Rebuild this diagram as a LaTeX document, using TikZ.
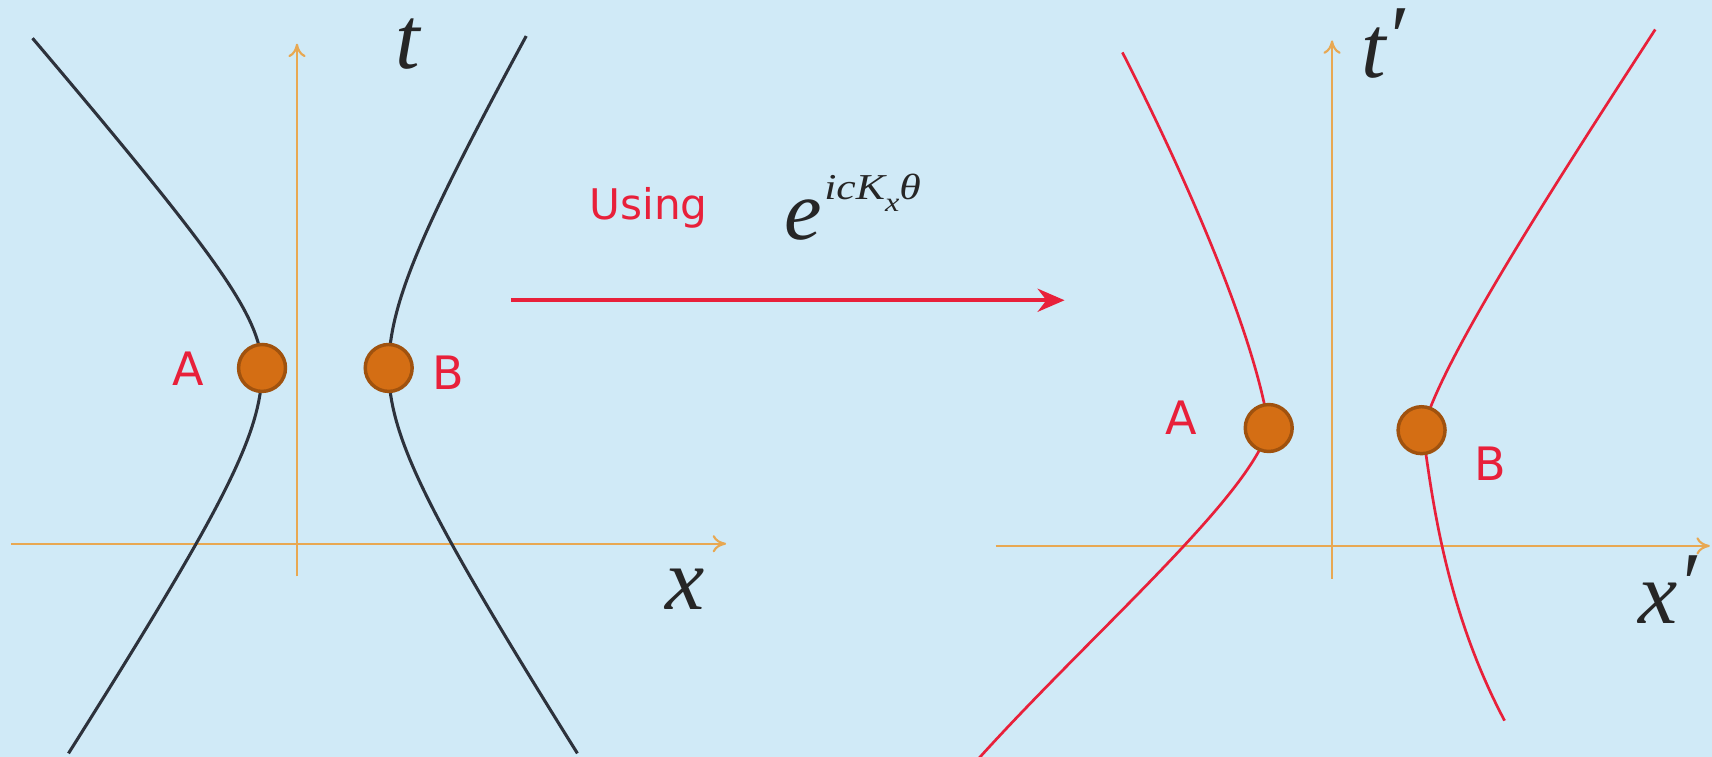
\documentclass[tikz,border=0pt]{standalone}
\usepackage{fontspec}
\usepackage{graphicx}
\setmainfont{Liberation Serif}
\newfontfamily\labelfont{DejaVu Sans}
\usetikzlibrary{arrows.meta}
\definecolor{bgblue}{RGB}{208,234,247}
\definecolor{axisorange}{RGB}{232,168,82}
\definecolor{curvedark}{RGB}{45,50,60}
\definecolor{curvered}{RGB}{232,32,58}
\definecolor{dotfill}{RGB}{212,110,20}
\definecolor{dotedge}{RGB}{160,82,14}
\tikzset{
  axisline/.style={draw=axisorange, line width=1.1pt, -{To[length=7pt,width=9pt]}},
  darkcurve/.style={draw=curvedark, line width=1.6pt},
  redcurve/.style={draw=curvered, line width=1.4pt},
  dotnode/.style={circle, fill=dotfill, draw=dotedge, line width=1.8pt, minimum size=0.86cm, inner sep=0pt},
  ptlabel/.style={text=curvered, font=\labelfont\fontsize{24}{24}\selectfont, inner sep=0pt},
  axislabel/.style={font=\fontsize{46}{46}\selectfont\itshape, inner sep=0pt, text=black!85},
  bigarrow/.style={draw=curvered, line width=2.2pt, -{Stealth[length=14pt,width=12pt]}}
}
\begin{document}
\begin{tikzpicture}[x=0.02cm, y=-0.02cm]
\fill[bgblue] (0,0) rectangle (1568,693);
\useasboundingbox (0,0) rectangle (1568,693);

% ---------- left diagram ----------
\coordinate (tb) at (272,528);
\coordinate (tt) at (272,40);
\coordinate (xl) at (10,498);
\coordinate (xr) at (665,498);
\draw[axisline] (tb) -- (tt);
\draw[axisline] (xl) -- (xr);
\node[axislabel] (tlab) at (373,40) {t};
\node[axislabel] (xlab) at (627,540) {x};

\draw[darkcurve] plot[domain=303:0, samples=60] ({240-60*(sqrt(1+(\x/69)^2)-1)}, {338-\x})
                 -- plot[domain=0:352, samples=60] ({240-60*(sqrt(1+(\x/92)^2)-1)}, {338+\x});
\draw[darkcurve] plot[domain=305:0, samples=60] ({356+57*(sqrt(1+(\x/100)^2)-1)}, {338-\x})
                 -- plot[domain=0:352, samples=60] ({356+65*(sqrt(1+(\x/100)^2)-1)}, {338+\x});

\node[dotnode] (dA) at (240,337) {};
\node[dotnode] (dB) at (356,337) {};
\node[ptlabel] (lA) at (172,338) {A};
\node[ptlabel] (lB) at (411,341) {B};

% ---------- transformation ----------
\node[text=curvered, font=\labelfont\fontsize{22}{22}\selectfont, inner sep=0pt] (using) at (594,190) {Using};
\node[anchor=base west, inner sep=0pt, text=black!85] (expo) at (718,219)
  {\fontsize{44}{44}\selectfont\itshape e\kern0.03em\raisebox{0.47em}{\scalebox{1.2}[1]{\fontsize{19}{19}\selectfont icK\raisebox{-0.33em}{\fontsize{14}{14}\selectfont x}θ}}};
\coordinate (arS) at (468,275);
\coordinate (arE) at (975,275);
\draw[bigarrow] (arS) -- (arE);

% ---------- right diagram ----------
\coordinate (tpb) at (1220,530);
\coordinate (tpt) at (1220,37);
\coordinate (xpl) at (912,500);
\coordinate (xpr) at (1566,500);
\draw[axisline] (tpb) -- (tpt);
\draw[axisline] (xpl) -- (xpr);
\node[axislabel] (tplab) at (1267,40) {t\raisebox{0.12em}{′}};
\node[axislabel] (xplab) at (1527,540) {x\raisebox{0.12em}{′}};

\draw[redcurve] (1028,48) .. controls (1090,170) and (1150,310) .. (1162,392)
                .. controls (1145,455) and (1000,580) .. (897,694);
\draw[redcurve] (1516,27) .. controls (1420,175) and (1320,330) .. (1303,394)
                .. controls (1312,460) and (1325,560) .. (1378,660);

\node[dotnode] (dA2) at (1162,392) {};
\node[dotnode] (dB2) at (1302,394) {};
\node[ptlabel] (lA2) at (1082,383) {A};
\node[ptlabel] (lB2) at (1365,425) {B};
\end{tikzpicture}
\end{document}
